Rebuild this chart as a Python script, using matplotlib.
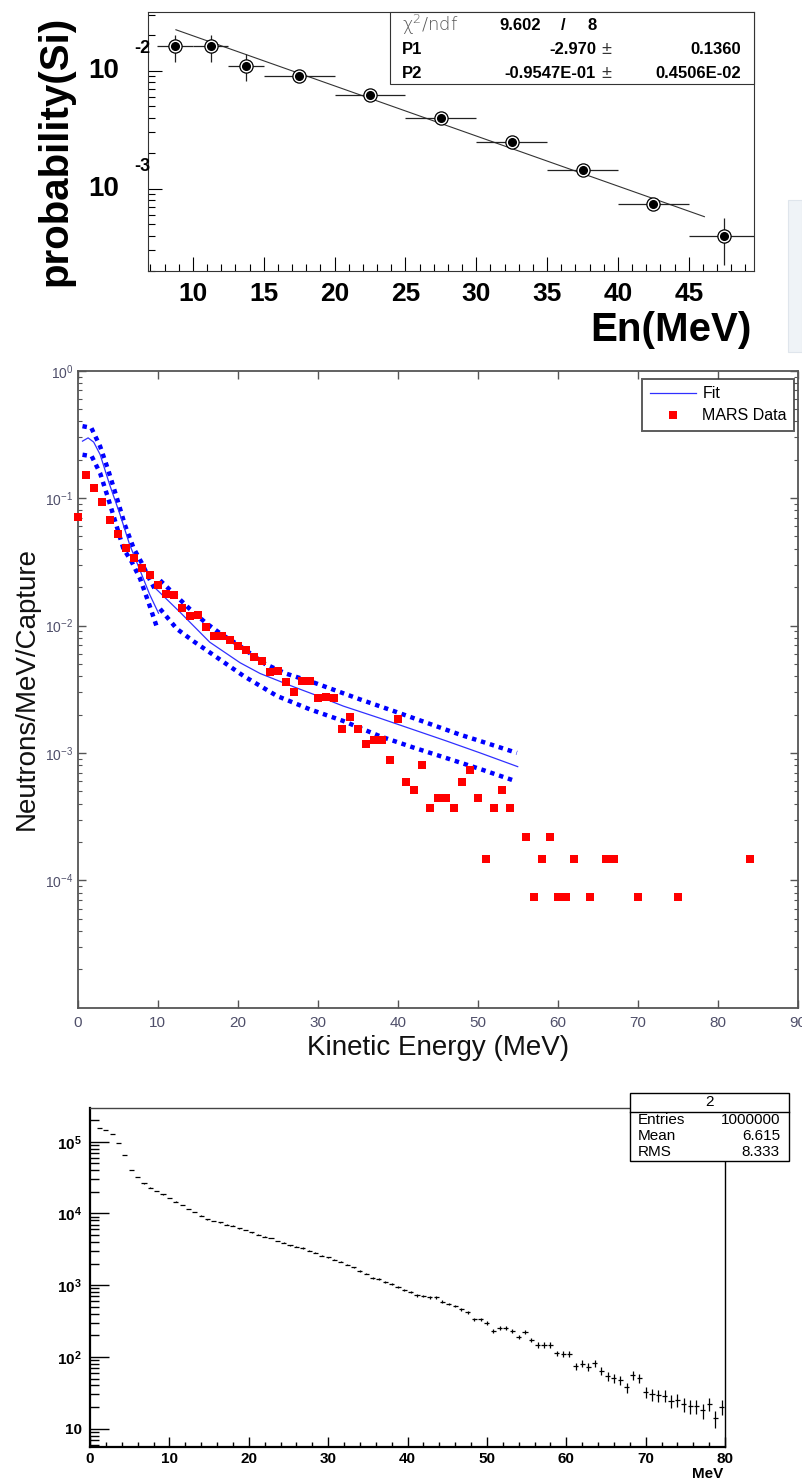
import numpy as np
import matplotlib
matplotlib.use("Agg")
import matplotlib.pyplot as plt
from matplotlib.patches import Rectangle
from matplotlib.lines import Line2D
from matplotlib.ticker import LogLocator, MultipleLocator, NullFormatter, FixedLocator

plt.rcParams['font.family'] = ['Liberation Sans', 'DejaVu Sans']
plt.rcParams['mathtext.default'] = 'regular'

W, H = 802, 1482

# ---------------- top panel: probability(Si) vs En ----------------
si_en = [8.75, 11.25, 13.75, 17.5, 22.5, 27.5, 32.5, 37.5, 42.5, 47.5]
si_en_err = [1.25, 1.25, 1.25, 2.5, 2.5, 2.5, 2.5, 2.5, 2.5, 2.5]
si_prob = [0.0161, 0.0161, 0.0110, 0.00907, 0.00625, 0.00399, 0.00248, 0.00143, 0.000736, 0.000396]
si_prob_err = [0.0042, 0.0042, 0.0028, 0.0006, 0.0004, 0.00025, 0.00015, 0.0001, 0.00008, 0.00017]
si_fit_en = [8.8, 46.1]
si_fit_prob = [0.0223, 0.000578]

# ---------------- middle panel: MARS data + fit ----------------
mars_x = list(range(0, 55)) + [56, 57, 58, 59, 60, 61, 62, 64, 66, 67, 70, 75, 84]
mars_y = [0.0706, 0.151, 0.121, 0.093, 0.0673, 0.0519, 0.0407, 0.034, 0.0283, 0.0251,
          0.0209, 0.0177, 0.0172, 0.0138, 0.0118, 0.0121, 0.0097, 0.0083, 0.0082, 0.00774,
          0.00694, 0.00641, 0.00569, 0.00528, 0.00428, 0.00441, 0.00361, 0.00301, 0.00367, 0.00367,
          0.00272, 0.00276, 0.00272, 0.00155, 0.00192, 0.00155, 0.00118, 0.00126, 0.00127, 0.000886,
          0.00184, 0.000586, 0.000513, 0.000809, 0.000368, 0.000439, 0.000439, 0.000368, 0.000586, 0.000738,
          0.000439, 0.000147, 0.000368, 0.000513, 0.000368,
          0.00022, 7.34e-5, 0.000147, 0.00022, 7.34e-5, 7.34e-5, 0.000147, 7.34e-5, 0.000147, 0.000147,
          7.34e-5, 7.34e-5, 0.000147]

fit_lo_x = [0.6, 1.3, 2.0, 2.8, 4.0, 5.3, 6.5, 7.8, 9.0, 10.1]
fit_lo_y = [0.28, 0.297, 0.275, 0.22, 0.127, 0.074, 0.043, 0.027, 0.0175, 0.0125]
upper_lo_x = [0.6, 1.7, 2.8, 3.8, 4.9, 5.9, 7.0, 8.0, 9.0, 9.8]
upper_lo_y = [0.367, 0.356, 0.255, 0.167, 0.1, 0.0615, 0.0403, 0.031, 0.023, 0.0185]
lower_lo_x = [0.6, 1.75, 2.8, 3.8, 4.7, 5.7, 6.75, 7.8, 8.8, 9.9]
lower_lo_y = [0.219, 0.213, 0.157, 0.1, 0.0653, 0.0403, 0.0316, 0.0233, 0.0155, 0.0097]

fit_hi_x = [9.75, 12.8, 16.5, 20.3, 22.8, 27.0, 29.5, 33.2, 37.8, 46.1, 50.3, 55.0]
fit_hi_y = [0.0195, 0.0127, 0.0074, 0.0051, 0.0042, 0.0033, 0.00288, 0.00233, 0.00187, 0.00124, 0.001, 0.00078]
upper_hi_x = [10.3, 12.0, 14.0, 16.0, 18.0, 20.0, 23.4, 26.0, 29.5, 35.3, 39.5, 43.0, 47.8, 51.0, 54.9]
upper_hi_y = [0.0226, 0.0178, 0.0135, 0.0105, 0.0085, 0.0071, 0.0050, 0.0042, 0.00357, 0.00263,
              0.00213, 0.00178, 0.00139, 0.0012, 0.001]
lower_hi_x = [10.3, 12.4, 14.5, 16.5, 20.7, 24.9, 29.0, 33.2, 37.8, 42.0, 46.1, 50.5, 54.75]
lower_hi_y = [0.0135, 0.0094, 0.0075, 0.00615, 0.00403, 0.0028, 0.0022, 0.00178, 0.00135, 0.0011,
              0.00091, 0.00074, 0.0006]

# ---------------- bottom panel: histogram "2" ----------------
hist_lo = 0.8      # first filled bin starts here
bin_w = 0.8
hist_counts = [1.57e5, 1.46e5, 1.27e5, 9.7e4, 6.53e4, 4.04e4, 3.25e4, 2.63e4, 2.29e4, 2.06e4,
               1.85e4, 1.63e4, 1.46e4, 1.31e4, 1.15e4, 1.05e4, 9.3e3, 8.28e3, 7.85e3, 7.52e3,
               6.97e3, 6.75e3, 6.21e3, 5.88e3, 5.46e3, 5.06e3, 4.74e3, 4.55e3, 4.13e3, 3.91e3,
               3.6e3, 3.44e3, 3.3e3, 3.03e3, 2.84e3, 2.58e3, 2.45e3, 2.27e3, 2.13e3, 1.93e3,
               1.77e3, 1.59e3, 1.45e3, 1.27e3, 1.22e3, 1.12e3, 1.04e3, 953, 857, 800,
               722, 714, 678, 678, 589, 546, 513, 461, 423, 334,
               334, 300, 232, 255, 250, 232, 191, 222, 172, 147,
               147, 147, 112, 110, 110, 74.7, 80.4, 72.9, 81.3, 64.1,
               54.1, 50.2, 47.6, 37.6, 55.7, 51.1, 32.7, 30.1, 29.1, 28.7,
               24.5, 25.0, 22.0, 20.6, 20.6, 18.1, 22.4, 13.9, 20.2]
hist_stats = [('Entries', '1000000'), ('Mean', '6.615'), ('RMS', '8.333')]

fig = plt.figure(figsize=(W / 100, H / 100), dpi=100)


def add_axes_px(left, top, right, bottom):
    return fig.add_axes([left / W, 1 - bottom / H, (right - left) / W, (bottom - top) / H])


def ftext(x, y, s, **kw):
    return fig.text(x / W, 1 - y / H, s, **kw)


def frect(left, top, right, bottom, **kw):
    r = Rectangle((left / W, 1 - bottom / H), (right - left) / W, (bottom - top) / H,
                  transform=fig.transFigure, **kw)
    fig.add_artist(r)
    return r


# ===== top panel =====
ax1 = add_axes_px(148, 12, 754, 271)
ax1.set_yscale('log')
ax1.set_xlim(6.83, 49.6)
ax1.set_ylim(10 ** -3.699, 10 ** -1.501)
ax1.plot(si_fit_en, si_fit_prob, color='#333333', lw=0.8, zorder=1)
ax1.errorbar(si_en, si_prob, xerr=si_en_err, yerr=si_prob_err, fmt='none',
             ecolor='#222222', elinewidth=0.9, zorder=2)
ax1.plot(si_en, si_prob, 'o', ms=9.5, mfc='white', mec='black', mew=0.9, zorder=3)
ax1.plot(si_en, si_prob, 'o', ms=5.5, color='black', zorder=4)
ax1.set_xticks([10, 15, 20, 25, 30, 35, 40, 45])
ax1.set_xticklabels(['10', '15', '20', '25', '30', '35', '40', '45'], fontsize=19, fontweight='bold')
ax1.xaxis.set_minor_locator(MultipleLocator(1))
ax1.tick_params(axis='x', which='major', direction='in', length=10, width=0.8, pad=8)
ax1.tick_params(axis='x', which='minor', direction='in', length=5, width=0.8)
ax1.yaxis.set_major_locator(FixedLocator([1e-3, 1e-2]))
ax1.yaxis.set_minor_locator(LogLocator(base=10, subs=np.arange(2, 10)))
ax1.yaxis.set_major_formatter(NullFormatter())
ax1.yaxis.set_minor_formatter(NullFormatter())
ax1.tick_params(axis='y', which='major', direction='in', length=10, width=0.8)
ax1.tick_params(axis='y', which='minor', direction='in', length=5, width=0.8)
for sp in ax1.spines.values():
    sp.set_linewidth(0.8)
    sp.set_color('#333333')
for val, ex in [(1e-2, '-2'), (1e-3, '-3')]:
    ax1.annotate('10', xy=(0, val), xycoords=('axes fraction', 'data'), xytext=(-21, 0),
                 textcoords='offset points', ha='right', va='center', fontsize=20, fontweight='bold')
    ax1.annotate(ex, xy=(0, val), xycoords=('axes fraction', 'data'), xytext=(2, 16),
                 textcoords='offset points', ha='right', va='center', fontsize=13, fontweight='bold')

ftext(55, 151, 'probability(Si)', rotation=90, fontsize=29, fontweight='bold', ha='center', va='center')
ftext(752, 330, 'En(MeV)', fontsize=29, fontweight='bold', ha='right', va='center')

# fit statistics box
frect(390, 12, 754, 84, fc='white', ec='#333333', lw=0.8, zorder=5)
ftext(402, 25, r'$\chi^2$/ndf', fontsize=13, color='#555555', ha='left', va='center',
      family=['DejaVu Sans'], fontweight='light', zorder=6)
bold12 = dict(fontsize=12, fontweight='bold', va='center', zorder=6)
ftext(541, 25, '9.602', ha='right', **bold12)
ftext(563, 25, '/', ha='center', **bold12)
ftext(592, 25, '8', ha='center', **bold12)
for y, name, val, err in [(49, 'P1', '-2.970', '0.1360'), (73, 'P2', '-0.9547E-01', '0.4506E-02')]:
    ftext(402, y, name, ha='left', **bold12)
    ftext(596, y, val, ha='right', **bold12)
    ftext(601, y, '\u00b1', ha='left', fontsize=13, va='center', color='#333333', zorder=6)
    ftext(741, y, err, ha='right', **bold12)

# faint window edge on the right
frect(788, 200, 802, 352, fc='#eff3f7', ec='#dfe5ec', lw=0.8)

# ===== middle panel =====
ax2 = add_axes_px(77.7, 370.7, 797.7, 1007.7)
ax2.set_yscale('log')
ax2.set_xlim(0, 90)
ax2.set_ylim(1e-5, 1)
dotted = (0, (1.0, 1.1))
for xs, ys in [(upper_lo_x, upper_lo_y), (lower_lo_x, lower_lo_y),
               (upper_hi_x, upper_hi_y), (lower_hi_x, lower_hi_y)]:
    ax2.plot(xs, ys, color='#0000ff', lw=3.2, linestyle=dotted, zorder=2)
ax2.plot(fit_lo_x, fit_lo_y, color='#3030ff', lw=0.9, zorder=3)
ax2.plot(fit_hi_x, fit_hi_y, color='#3030ff', lw=0.9, zorder=3)
ax2.plot(mars_x, mars_y, 's', color='#ff0000', ms=6, mew=0, clip_on=False, zorder=5)

lab_col = '#4f4f6a'
ax2.set_xticks(range(0, 91, 10))
ax2.set_xticklabels([str(v) for v in range(0, 91, 10)], fontsize=11, color=lab_col)
ax2.set_yticks([1e-4, 1e-3, 1e-2, 1e-1, 1])
ax2.set_yticklabels(['$10^{-4}$', '$10^{-3}$', '$10^{-2}$', '$10^{-1}$', '$10^{0}$'],
                    fontsize=10, color=lab_col)
ax2.yaxis.set_minor_locator(LogLocator(base=10, subs=np.arange(2, 10)))
ax2.yaxis.set_minor_formatter(NullFormatter())
ax2.tick_params(which='both', direction='in', top=True, right=True, color='#555555')
ax2.tick_params(axis='x', which='major', length=6, width=1, pad=6)
ax2.tick_params(axis='y', which='major', length=6, width=1, pad=3)
ax2.tick_params(axis='y', which='minor', length=3, width=0.8)
for sp in ax2.spines.values():
    sp.set_linewidth(1.3)
    sp.set_color('#555555')
ftext(27, 689, 'Neutrons/MeV/Capture', rotation=90, fontsize=20, ha='center', va='center', color='#111111')
ftext(437.7, 1048, 'Kinetic Energy (MeV)', fontsize=20, ha='center', va='center', color='#111111')

handles = [Line2D([], [], color='#3030ff', lw=0.9),
           Line2D([], [], marker='s', color='#ff0000', ls='none', ms=6, mew=0)]
leg = ax2.legend(handles, ['Fit', 'MARS Data'], loc='upper right',
                 bbox_to_anchor=(794 / W, 1 - 379 / H), bbox_transform=fig.transFigure,
                 fontsize=11.5, frameon=True, fancybox=False, edgecolor='#333333',
                 borderaxespad=0, handlelength=2.9, handletextpad=0.4, borderpad=0.45,
                 labelspacing=0.45)
leg.get_frame().set_linewidth(1.4)

# ===== bottom panel =====
ax3 = add_axes_px(90, 1107.7, 725, 1446.7)
ax3.set_yscale('log')
ax3.set_xlim(0, 80)
ax3.set_ylim(5.6, 2.98e5)
centers = hist_lo + bin_w * (np.arange(len(hist_counts)) + 0.5)
counts = np.array(hist_counts)
# Poisson error bars, as drawn by ROOT
ax3.errorbar(centers, counts, xerr=0.32, yerr=np.sqrt(counts), fmt='none',
             ecolor='black', elinewidth=0.9)
ax3.set_xticks(range(0, 81, 10))
ax3.set_xticklabels([str(v) for v in range(0, 81, 10)], fontsize=11, fontweight='bold')
ax3.xaxis.set_minor_locator(MultipleLocator(2))
ax3.set_yticks([10, 1e2, 1e3, 1e4, 1e5])
ax3.set_yticklabels(['10', '$10^{2}$', '$10^{3}$', '$10^{4}$', '$10^{5}$'], fontsize=11, fontweight='bold')
ax3.yaxis.set_minor_locator(LogLocator(base=10, subs=np.arange(2, 10)))
ax3.yaxis.set_minor_formatter(NullFormatter())
ax3.tick_params(axis='x', which='major', direction='in', length=7.2, width=1, pad=4)
ax3.tick_params(axis='x', which='minor', direction='in', length=3.6, width=1)
ax3.tick_params(axis='y', which='major', direction='in', length=13.7, width=1, pad=6)
ax3.tick_params(axis='y', which='minor', direction='in', length=6.8, width=1)
ax3.spines['left'].set_linewidth(1.6)
ax3.spines['bottom'].set_linewidth(1.6)
ax3.spines['top'].set_linewidth(1.0)
ax3.spines['top'].set_color('#444444')
ax3.spines['right'].set_linewidth(1.0)
ftext(723, 1474, 'MeV', fontsize=11, fontweight='bold', ha='right', va='center')

frect(630, 1093.3, 789, 1161, fc='white', ec='black', lw=1.0, zorder=5)
fig.add_artist(Line2D([630 / W, 789 / W], [1 - 1111.7 / H, 1 - 1111.7 / H],
                      transform=fig.transFigure, color='black', lw=1.0, zorder=6))
ftext(709.5, 1102.5, '2', fontsize=11, ha='center', va='center', zorder=6)
for row, (name, val) in enumerate(hist_stats):
    y = 1119.5 + row * 16.2
    ftext(638, y, name, fontsize=11, ha='left', va='center', zorder=6)
    ftext(780, y, val, fontsize=11, ha='right', va='center', zorder=6)

fig.savefig('out.png', dpi=100)
